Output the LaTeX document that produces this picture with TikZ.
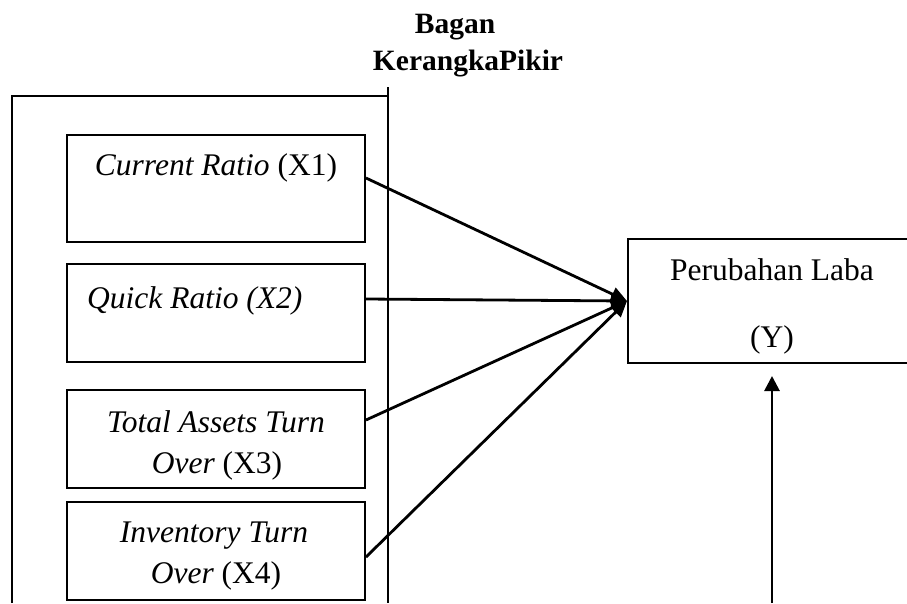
\documentclass[tikz,border=0pt]{standalone}
\usepackage{fontspec}
\setmainfont{Liberation Serif}
\usetikzlibrary{arrows.meta}
\begin{document}
\begin{tikzpicture}[x=1pt,y=-1pt,
  frame/.style={line width=2pt},
  varbox/.style={draw,line width=2pt,inner sep=0pt,minimum width=298pt},
  conn/.style={line width=2.8pt,-{Triangle[length=16pt,width=14pt]}},
  txt/.style={font=\fontsize{31.5}{36}\selectfont,inner sep=0pt,anchor=base},
  ttl/.style={font=\fontsize{29.5}{34}\selectfont\bfseries,inner sep=0pt,anchor=base}]
\useasboundingbox (0,0) rectangle (907,603);
\clip (0,0) rectangle (907,603);

% heading
\node[ttl] (h1) at (455,33) {Bagan};
\node[ttl] (h2) at (468,70) {KerangkaPikir};

% enclosing frame of the independent variables
\draw[frame] (12,603) -- (12,96) -- (388,96);
\draw[frame] (388,87) -- (388,603);

% independent variable boxes
\node[varbox,minimum height=107pt] (b1) at (216,188.5) {};
\node[varbox,minimum height=98pt]  (b2) at (216,313) {};
\node[varbox,minimum height=98pt]  (b3) at (216,439) {};
\node[varbox,minimum height=98pt]  (b4) at (216,551) {};

\node[txt] (l1) at (216,175) {\textit{Current Ratio} (X1)};
\node[txt,anchor=base west] (l2) at (87,308) {\textit{Quick Ratio (X2)}};
\node[txt] (l3a) at (216,432) {\textit{Total Assets Turn}};
\node[txt] (l3b) at (217,473) {\textit{Over} (X3)};
\node[txt] (l4a) at (214,542) {\textit{Inventory Turn}};
\node[txt] (l4b) at (216,583) {\textit{Over} (X4)};

% dependent variable box (runs past the right edge)
\node[varbox,minimum width=288pt,minimum height=124pt] (py) at (772,301) {};
\node[txt] (ly1) at (772,280) {Perubahan Laba};
\node[txt] (ly2) at (772,347) {(Y)};

% connector start points on the right edges of the boxes
\coordinate (s1) at (b1.east |- 0,178);
\coordinate (s2) at (b2.east |- 0,299);
\coordinate (s3) at (b3.east |- 0,420);
\coordinate (s4) at (b4.east |- 0,557);
\coordinate (vb) at (772,603);

\draw[conn] (s1) -- (py.west);
\draw[conn] (s2) -- (py.west);
\draw[conn] (s3) -- (py.west);
\draw[conn] (s4) -- (py.west);
\draw[conn,-{Triangle[length=15pt,width=15pt]}] (vb) -- ([yshift=-12pt]py.south);
\end{tikzpicture}
\end{document}
